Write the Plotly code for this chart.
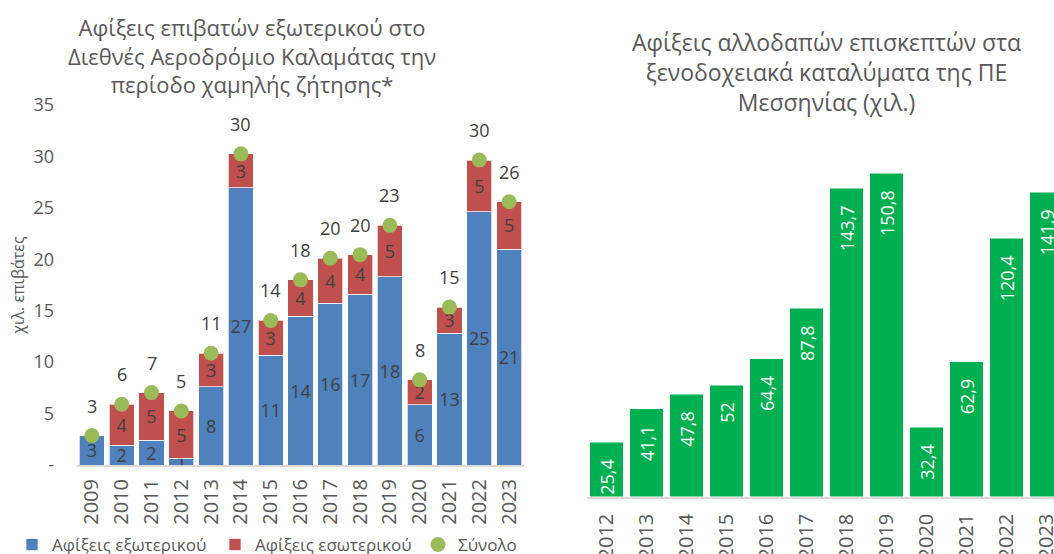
import plotly.graph_objects as go

# ---------------- data ----------------
years_air = ["2009", "2010", "2011", "2012", "2013", "2014", "2015", "2016",
             "2017", "2018", "2019", "2020", "2021", "2022", "2023"]
foreign_arr = [2.82, 1.90, 2.43, 0.65, 7.62, 26.94, 10.68, 14.45, 15.74, 16.60,
               18.30, 5.87, 12.80, 24.60, 21.00]
domestic_arr = [0.04, 4.00, 4.61, 4.61, 3.25, 3.31, 3.37, 3.55, 4.36, 3.85,
                5.00, 2.41, 2.55, 5.05, 4.60]
total_arr = [2.86, 5.90, 7.04, 5.26, 10.87, 30.25, 14.05, 18.00, 20.10, 20.45,
             23.30, 8.28, 15.35, 29.65, 25.60]

years_hotel = ["2012", "2013", "2014", "2015", "2016", "2017", "2018", "2019",
               "2020", "2021", "2022", "2023"]
hotel_arr = [25.4, 41.1, 47.8, 52.0, 64.4, 87.8, 143.7, 150.8, 32.4, 62.9, 120.4, 141.9]

y_ticks = [0, 5, 10, 15, 20, 25, 30, 35]

title_left = "Αφίξεις επιβατών εξωτερικού στο<br>Διεθνές Αεροδρόμιο Καλαμάτας την<br>περίοδο χαμηλής ζήτησης*"
title_right = "Αφίξεις αλλοδαπών επισκεπτών στα<br>ξενοδοχειακά καταλύματα της ΠΕ<br>Μεσσηνίας (χιλ.)"


def fmt0(v):
    r = int(round(v))
    return "-" if r == 0 else str(r)


def fmt_gr(v):
    s = f"{v:.1f}".replace(".", ",")
    if s.endswith(",0"):
        s = s[:-2]
    return s + "\u00a0\u00a0\u00a0"


FONT = "Open Sans, Noto Sans, DejaVu Sans"
GREY = "#595959"
DARK = "#404040"
W, H = 1054, 554


def px_x(p):
    return p / W


def px_y(p):
    return (H - p) / H


fig = go.Figure()

fig.add_trace(go.Bar(
    x=years_air, y=foreign_arr, name="Αφίξεις εξωτερικού",
    marker=dict(color="#4F81BD", line=dict(color="rgba(255,255,255,0.7)", width=1)),
    text=[fmt0(v) for v in foreign_arr], textposition="inside", textangle=0,
    insidetextanchor="middle", insidetextfont=dict(color=DARK, size=18, family=FONT),
    xaxis="x", yaxis="y", hoverinfo="skip"))
fig.add_trace(go.Bar(
    x=years_air, y=domestic_arr, name="Αφίξεις εσωτερικού",
    marker=dict(color="#C0504D", line=dict(color="rgba(255,255,255,0.7)", width=1)),
    text=[fmt0(v) for v in domestic_arr], textposition="inside", textangle=0,
    insidetextanchor="middle", insidetextfont=dict(color=DARK, size=18, family=FONT),
    xaxis="x", yaxis="y", hoverinfo="skip"))
fig.add_trace(go.Scatter(
    x=years_air, y=total_arr, name="Σύνολο", mode="markers",
    marker=dict(color="#9BBB59", size=15),
    xaxis="x", yaxis="y", hoverinfo="skip"))

fig.add_trace(go.Bar(
    x=years_hotel, y=hotel_arr, showlegend=False,
    marker=dict(color="#00B050", line=dict(color="rgba(255,255,255,0.5)", width=1)),
    text=[fmt_gr(v) for v in hotel_arr], textposition="inside", textangle=-90,
    insidetextanchor="end", insidetextfont=dict(color="white", size=18, family=FONT),
    xaxis="x2", yaxis="y2", hoverinfo="skip"))

annotations = []
for i, t in enumerate(total_arr):
    # category axis: position by category index
    annotations.append(dict(x=i, y=t, xref="x", yref="y", text=fmt0(t),
                            showarrow=False, yshift=30,
                            font=dict(size=18, color=DARK, family=FONT)))

annotations.append(dict(x=px_x(252), y=px_y(56), xref="paper", yref="paper",
                        text=title_left, showarrow=False, xanchor="center", yanchor="middle",
                        font=dict(size=22, color=GREY, family=FONT)))
annotations.append(dict(x=px_x(826), y=px_y(72), xref="paper", yref="paper",
                        text=title_right, showarrow=False, xanchor="center", yanchor="middle",
                        font=dict(size=23, color=GREY, family=FONT)))

fig.update_layout(
    width=W, height=H,
    margin=dict(l=0, r=0, t=0, b=0, autoexpand=False),
    paper_bgcolor="white", plot_bgcolor="white",
    barmode="stack", bargap=0.16,
    font=dict(family=FONT, color=GREY, size=18),
    uniformtext=dict(minsize=18, mode="show"),
    showlegend=True,
    legend=dict(orientation="h", x=px_x(12), y=px_y(545), xanchor="left", yanchor="middle",
                bgcolor="rgba(0,0,0,0)", traceorder="normal",
                font=dict(size=17, color=GREY, family=FONT),
                entrywidth=158, entrywidthmode="pixels",
                itemclick=False, itemdoubleclick=False),
    annotations=annotations,
    xaxis=dict(domain=[px_x(77), px_x(524)], type="category", tickangle=-90,
               range=[-0.5, len(years_air) - 0.5], automargin=False,
               showline=True, linecolor="#D9D9D9", linewidth=2, ticks="",
               showgrid=False, zeroline=False, ticklabelstandoff=4,
               tickfont=dict(size=20, color=GREY), anchor="y", fixedrange=True),
    yaxis=dict(domain=[px_y(465), px_y(105)], range=[0, 35], automargin=False,
               tickvals=y_ticks, ticktext=["-" if v == 0 else str(v) for v in y_ticks],
               showline=False, showgrid=False, zeroline=False, ticks="",
               ticklabelstandoff=22,
               tickfont=dict(size=18, color=GREY), anchor="x", fixedrange=True,
               title=dict(text="χιλ. επιβάτες", font=dict(size=16, color=GREY), standoff=4)),
    xaxis2=dict(domain=[px_x(586.5), 1.0], type="category", tickangle=-90,
                range=[-0.5, 11.5 - 12.5 / 40.0], automargin=False,
                showline=True, linecolor="#D9D9D9", linewidth=2, ticks="",
                showgrid=False, zeroline=False, ticklabelstandoff=7,
                tickfont=dict(size=20, color=GREY), anchor="y2", fixedrange=True),
    yaxis2=dict(domain=[px_y(496.7), px_y(153.5)], range=[0, 160], visible=False,
                anchor="x2", fixedrange=True, automargin=False),
)

fig.write_html("out.html", post_script="document.body.style.margin='0';",
               config={"displayModeBar": False})
